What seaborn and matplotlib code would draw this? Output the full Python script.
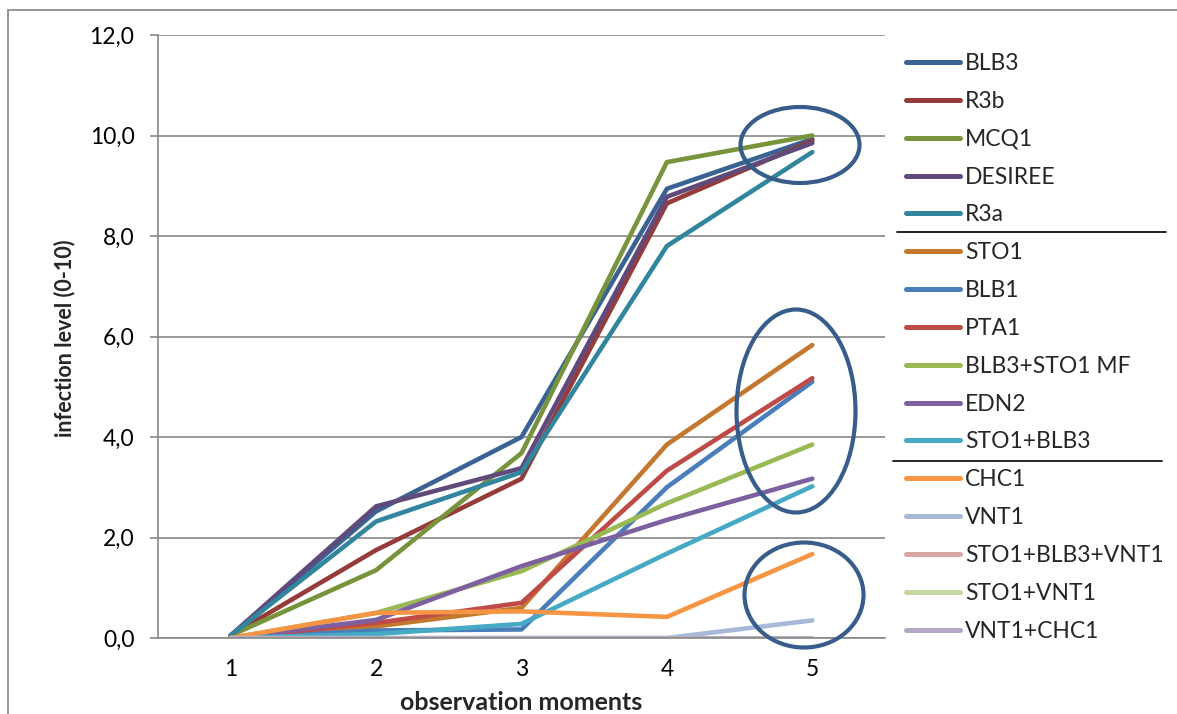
import matplotlib
matplotlib.use("Agg")
import matplotlib.pyplot as plt
from matplotlib.lines import Line2D
from matplotlib.patches import Ellipse, Rectangle
from matplotlib.ticker import FixedLocator, FuncFormatter
import numpy as np
import pandas as pd
import seaborn as sns

# observation moments
moments = [1, 2, 3, 4, 5]

# infection level (0-10) per genotype
BLB3 = [0.05, 2.52, 4.00, 8.94, 9.93]
R3b = [0.05, 1.75, 3.17, 8.65, 9.90]
MCQ1 = [0.05, 1.35, 3.68, 9.47, 10.00]
DESIREE = [0.05, 2.62, 3.38, 8.78, 9.85]
R3a = [0.05, 2.32, 3.30, 7.80, 9.67]
STO1 = [0.00, 0.23, 0.60, 3.85, 5.83]
BLB1 = [0.00, 0.15, 0.17, 3.00, 5.10]
PTA1 = [0.00, 0.30, 0.70, 3.33, 5.17]
BLB3_STO1_MF = [0.00, 0.50, 1.33, 2.68, 3.85]
EDN2 = [0.00, 0.36, 1.43, 2.35, 3.17]
STO1_BLB3 = [0.00, 0.08, 0.28, 1.68, 3.02]
CHC1 = [0.00, 0.50, 0.53, 0.42, 1.67]
VNT1 = [0.00, 0.00, 0.00, 0.00, 0.35]
STO1_BLB3_VNT1 = [0.00, 0.00, 0.00, 0.00, 0.00]
STO1_VNT1 = [0.00, 0.00, 0.00, 0.00, 0.00]
VNT1_CHC1 = [0.00, 0.00, 0.00, 0.00, 0.00]

series = {
    "BLB3": BLB3,
    "R3b": R3b,
    "MCQ1": MCQ1,
    "DESIREE": DESIREE,
    "R3a": R3a,
    "STO1": STO1,
    "BLB1": BLB1,
    "PTA1": PTA1,
    "BLB3+STO1 MF": BLB3_STO1_MF,
    "EDN2": EDN2,
    "STO1+BLB3": STO1_BLB3,
    "CHC1": CHC1,
    "VNT1": VNT1,
    "STO1+BLB3+VNT1": STO1_BLB3_VNT1,
    "STO1+VNT1": STO1_VNT1,
    "VNT1+CHC1": VNT1_CHC1,
}
names = list(series.keys())

colors = [
    "#3A6393", "#953B39", "#77933C", "#604A7B", "#31859C", "#C4772E",
    "#4A7EBB", "#BE4B48", "#98B954", "#7D60A0", "#46AAC5", "#F69544",
    "#A7B9D9", "#D9A7A6", "#C4D7A1", "#B4A7C8",
]
palette = dict(zip(names, colors))

df = pd.DataFrame(
    [(m, name, v) for name in names for m, v in zip(moments, series[name])],
    columns=["moment", "genotype", "level"],
)

sns.set_theme(style="white")
plt.rcParams["font.family"] = ["Lato", "DejaVu Sans"]

W, H = 1177, 714
fig = plt.figure(figsize=(W / 100, H / 100), dpi=100)

# plot area in pixels: x 158..885, y 35..638
ax = fig.add_axes([158 / W, 1 - 638 / H, (885 - 158) / W, (638 - 35) / H])

grid_c = "#878787"
sns.lineplot(
    data=df, x="moment", y="level", hue="genotype", hue_order=names,
    palette=palette, linewidth=3.3, sort=False, legend=False, ax=ax,
    estimator=None, solid_capstyle="round", solid_joinstyle="round",
)

ax.set_xlim(0.5, 5.5)
ax.set_ylim(0, 12)
ax.yaxis.set_major_locator(FixedLocator(np.arange(0, 12.1, 2)))
ax.yaxis.set_major_formatter(FuncFormatter(lambda v, p: f"{v:.1f}".replace(".", ",")))
ax.grid(axis="y", color=grid_c, linewidth=1.2)
ax.set_axisbelow(True)

ax.xaxis.set_major_locator(FixedLocator(moments))
ax.xaxis.set_minor_locator(FixedLocator([1.5, 2.5, 3.5, 4.5, 5.5]))
ax.tick_params(axis="x", which="major", length=0, pad=15, labelsize=16.5, labelcolor="black")
ax.tick_params(axis="x", which="minor", length=6, width=1.2, color=grid_c, direction="out")
ax.tick_params(axis="y", which="major", length=6, width=1.2, color=grid_c,
               direction="out", pad=11, labelsize=16.5, labelcolor="black", left=True)

for side in ["top", "right"]:
    ax.spines[side].set_visible(False)
for side in ["left", "bottom"]:
    ax.spines[side].set_color(grid_c)
    ax.spines[side].set_linewidth(1.2)
ax.set_xlabel("")
ax.set_ylabel("")

fig.text(65 / W, 1 - 338 / H, "infection level (0-10)", rotation=90,
         ha="center", va="center", fontsize=15.5, fontweight="bold")
fig.text(521 / W, 1 - 702 / H, "observation moments",
         ha="center", va="center", fontsize=18, fontweight="bold")

# ellipses highlighting end-point groups (pixel centre, width, height)
def px_ellipse(cx, cy, w, h):
    e = Ellipse(((cx - 158) / 727, (638 - cy) / 603), w / 727, h / 603,
                transform=ax.transAxes, fill=False, edgecolor="#385D8A",
                linewidth=3.0, clip_on=False, zorder=5)
    ax.add_patch(e)

px_ellipse(800, 145, 119, 76)
px_ellipse(796, 411, 119, 203)
px_ellipse(804, 595, 119, 105)

# legend
handles = [Line2D([], [], color=palette[n], linewidth=3.6, solid_capstyle="round") for n in names]
leg = fig.legend(handles, names, loc="upper left",
                 bbox_to_anchor=(906 / W, 1 - 53 / H), frameon=False,
                 fontsize=16.5, handlelength=2.36, handletextpad=0.22,
                 labelspacing=0.735, borderpad=0, borderaxespad=0)

# group separators
fig.add_artist(Line2D([897 / W, 1166 / W], [1 - 232 / H, 1 - 232 / H], color="black", linewidth=1.2))
fig.add_artist(Line2D([893 / W, 1162 / W], [1 - 461 / H, 1 - 461 / H], color="black", linewidth=1.2))

# outer chart frame
fig.add_artist(Rectangle((8 / W, -0.1), 1.2, 1 - 10 / H + 0.1,
                         transform=fig.transFigure, fill=False,
                         edgecolor="#8C8C8C", linewidth=1.3))

fig.savefig("out.png", dpi=100)
